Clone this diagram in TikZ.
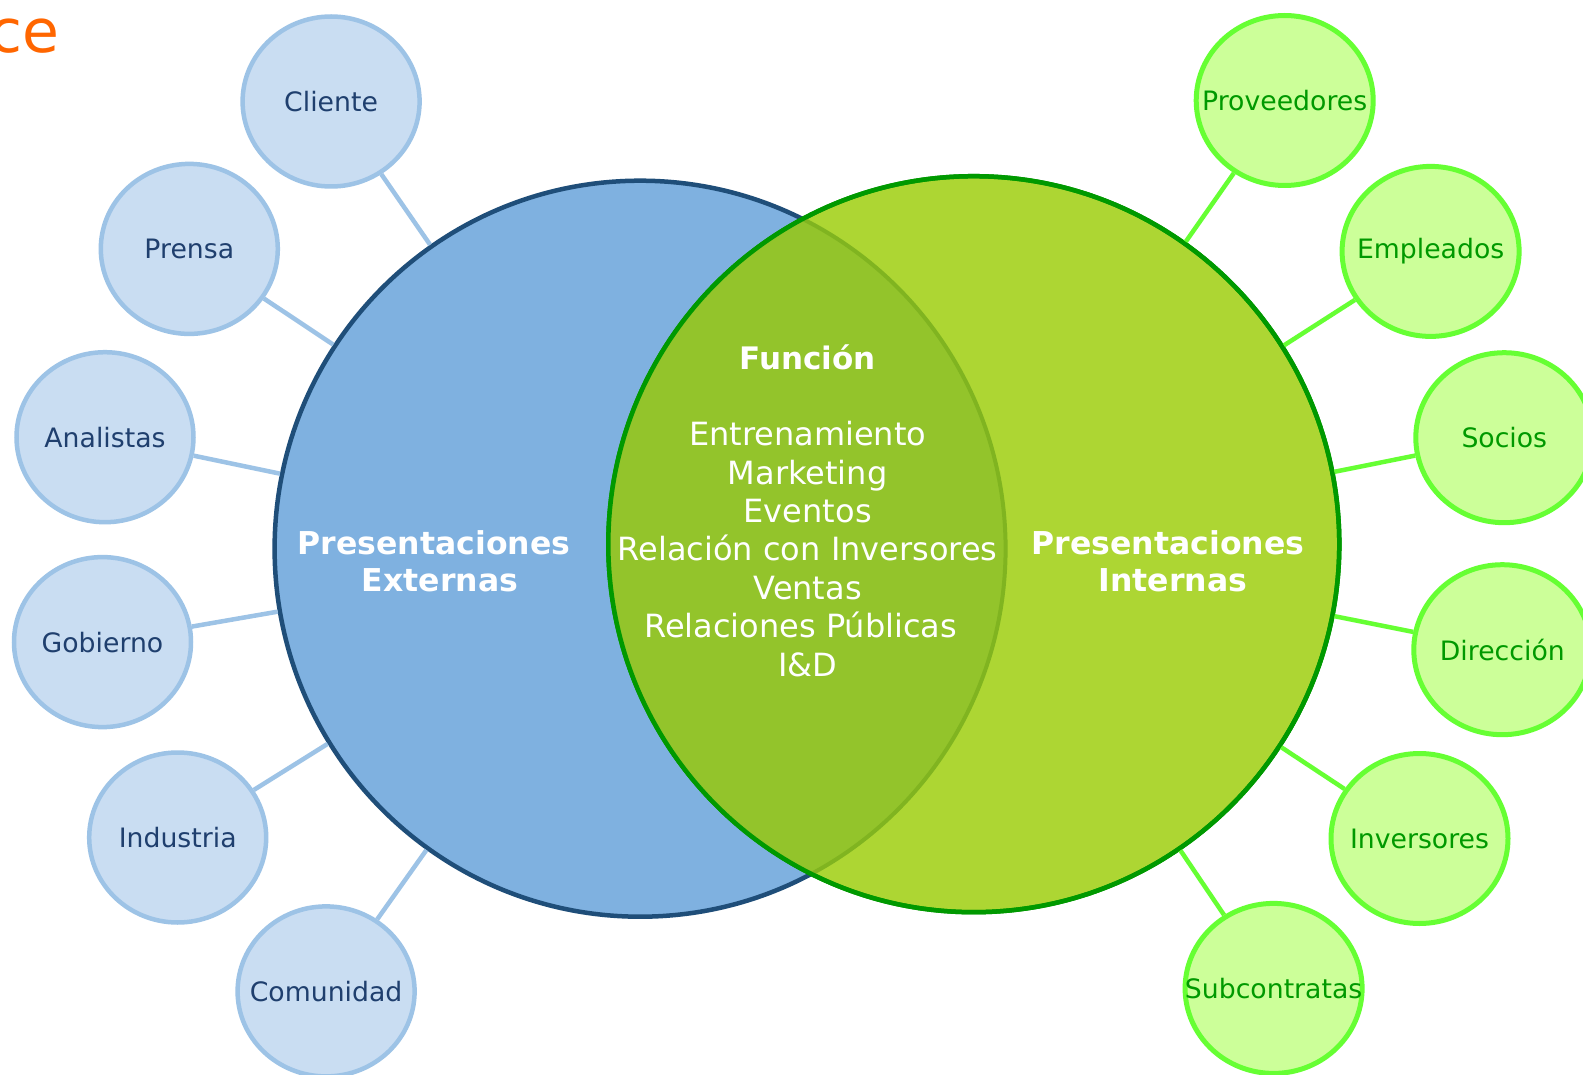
\documentclass[tikz,border=0pt]{standalone}
\usepackage{fontspec}
\setmainfont{DejaVu Sans}
\usetikzlibrary{shapes.geometric}
\definecolor{blueFill}{HTML}{7FB1E0}
\definecolor{navyB}{HTML}{1F4E79}
\definecolor{greenFill}{HTML}{ADD633}
\definecolor{greenB}{HTML}{009900}
\definecolor{overlapC}{HTML}{93C42B}
\definecolor{oliveB}{HTML}{80B420}
\definecolor{lFill}{HTML}{C9DDF2}
\definecolor{lBorder}{HTML}{9DC3E6}
\definecolor{lText}{HTML}{1F3F6E}
\definecolor{rFill}{HTML}{CCFF99}
\definecolor{rBorder}{HTML}{66FF33}
\definecolor{rText}{HTML}{009900}
\definecolor{orangeT}{HTML}{FF6600}
\newcommand{\zw}[1]{\makebox[0pt]{#1}}
\tikzset{
  bigc/.style={ellipse, inner sep=0pt, minimum width=731pt, minimum height=736pt, line width=4.5pt},
  lcirc/.style={ellipse, inner sep=0pt, minimum width=177pt, minimum height=170pt, line width=4.5pt,
     fill=lFill, draw=lBorder, text=lText, font=\fontsize{26.7}{30}\selectfont},
  rcirc/.style={ellipse, inner sep=0pt, minimum width=177pt, minimum height=170pt, line width=5pt,
     fill=rFill, draw=rBorder, text=rText, font=\fontsize{26.7}{30}\selectfont},
  lconn/.style={draw=lBorder, line width=4.5pt},
  rconn/.style={draw=rBorder, line width=4.5pt},
  bigtitle/.style={text=white, align=center, inner sep=0pt, font=\bfseries\fontsize{31.5}{37.4}\selectfont},
  listtext/.style={text=white, align=center, inner sep=0pt, font=\fontsize{32}{38.4}\selectfont}
}
\begin{document}
\begin{tikzpicture}[x=1pt,y=-1pt]
\useasboundingbox (0,0) rectangle (1583,1075);
\fill[white] (0,0) rectangle (1583,1075);
% title fragment
\node[anchor=base west, inner sep=0pt, text=orangeT, font=\fontsize{60}{70}\selectfont] (title) at (-11,53) {ce};
% big circles
\node[bigc, fill=blueFill, draw=navyB] (ext) at (640.1,548.7) {};
\node[bigc, fill=greenFill, draw=greenB] (int) at (973.8,544.2) {};
% overlap
\begin{scope}
  \clip (640.1,548.7) ellipse [x radius=365.5pt, y radius=368pt];
  \fill[overlapC] (973.8,544.2) ellipse [x radius=365.5pt, y radius=368pt];
\end{scope}
\begin{scope}
  \clip (973.8,544.2) ellipse [x radius=365.5pt, y radius=368pt];
  \draw[oliveB, line width=4pt] (640.1,548.7) ellipse [x radius=365.5pt, y radius=368pt];
\end{scope}
\draw[greenB, line width=4.5pt] (973.8,544.2) ellipse [x radius=365.5pt, y radius=368pt];
% texts
\node[bigtitle] (exttxt) at (434,561) {Presentaciones\\\hspace*{12pt}Externas};
\node[bigtitle] (inttxt) at (1168,561) {Presentaciones\\\hspace*{10pt}Internas};
\node[bigtitle, font=\bfseries\fontsize{31}{37}\selectfont] (funcion) at (807.7,357) {Función};
\node[listtext] (lista) at (807.7,549) {Entrenamiento\\Marketing\\Eventos\\Relación con Inversores\\Ventas\\Relaciones Públicas\rule{14pt}{0pt}\\I\&D};
% left circles
\node[lcirc] (cliente) at (331.1,101.5) {\zw{Cliente}};
\node[lcirc] (prensa) at (189.3,248.9) {\zw{Prensa}};
\node[lcirc] (analistas) at (105,437.2) {\zw{Analistas}};
\node[lcirc] (gobierno) at (102.5,642.1) {\zw{Gobierno}};
\node[lcirc] (industria) at (177.7,837.5) {\zw{Industria}};
\node[lcirc] (comunidad) at (326.1,991.4) {\zw{Comunidad}};
% right circles
\node[rcirc] (proveedores) at (1284.7,100.5) {\zw{Proveedores}};
\node[rcirc] (empleados) at (1430.6,251.4) {\zw{Empleados}};
\node[rcirc] (socios) at (1504.3,437.7) {\zw{Socios}};
\node[rcirc] (direccion) at (1502.3,649.7) {\zw{Dirección}};
\node[rcirc] (inversores) at (1419.5,838.5) {\zw{Inversores}};
\node[rcirc] (subcontratas) at (1273.6,988.4) {\zw{Subcontratas}};
% connectors
\foreach \n in {cliente,prensa,analistas,gobierno,industria,comunidad}
  \draw[lconn] (\n) -- (ext);
\foreach \n in {proveedores,empleados,socios,direccion,inversores,subcontratas}
  \draw[rconn] (\n) -- (int);
\end{tikzpicture}
\end{document}
